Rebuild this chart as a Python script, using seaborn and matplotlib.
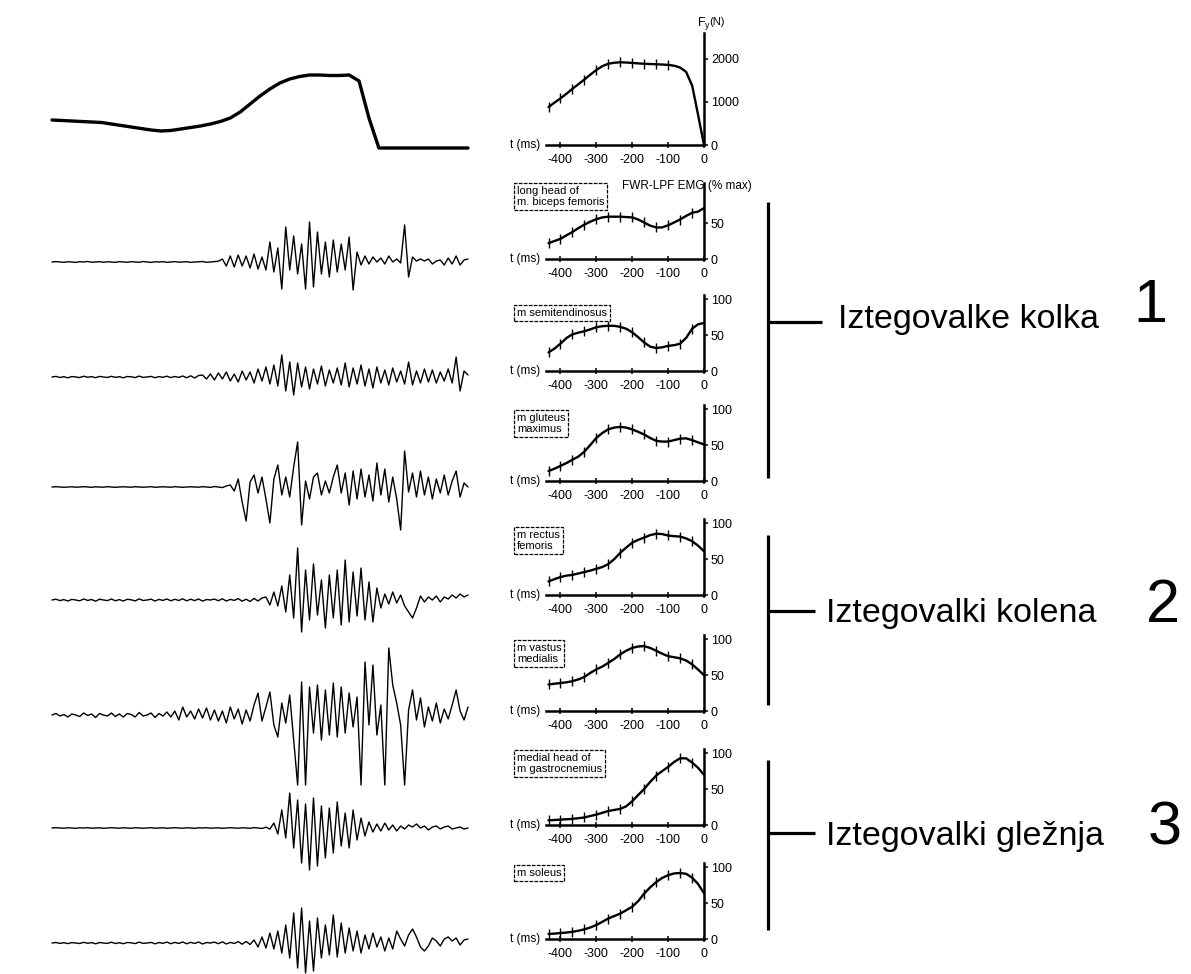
import numpy as np
import matplotlib
matplotlib.use("Agg")
import matplotlib.pyplot as plt
import seaborn as sns
from matplotlib import font_manager

sns.set_theme(style="white")
plt.rcParams['axes.unicode_minus'] = False
_names = {f.name for f in font_manager.fontManager.ttflist}
NARROW = 'Liberation Sans Narrow' in _names
FAM = ['Liberation Sans Narrow', 'Liberation Sans', 'DejaVu Sans'] if NARROW else ['Liberation Sans', 'DejaVu Sans']
plt.rcParams['font.family'] = ['Liberation Sans', 'DejaVu Sans']

# ---------------- data: filtered curves (right-hand small panels) ----------------
T_MS = [-433, -417, -400, -383, -367, -350, -333, -317, -300, -283, -267, -250, -233,
        -217, -200, -183, -167, -150, -133, -117, -100, -83, -67, -50, -33, -17, 0]

FORCE_N = [880, 980, 1080, 1190, 1300, 1410, 1520, 1630, 1740, 1830, 1885, 1910, 1920,
           1915, 1905, 1895, 1885, 1880, 1875, 1868, 1860, 1840, 1800, 1700, 1380, 720, 0]
BICEPS = [22, 25, 28, 33, 37.5, 43, 48, 52, 55.5, 58, 59, 59, 59, 58.5, 58, 55, 51, 46.5,
          44, 44, 47, 51, 55, 60, 64.5, 66, 71]
SEMITEND = [26, 31, 38, 46, 51, 53.5, 55.5, 58, 61, 62.5, 63, 63, 61.5, 59, 54, 47, 40, 34,
            32, 33, 35, 36, 38, 46, 59, 65, 67]
GLUTEUS = [14, 17, 21, 25, 29.5, 34, 41, 50, 60, 67, 72, 74.5, 75.5, 74.5, 72, 68.5, 65, 60,
           56, 55, 55, 57, 59, 59.5, 57, 54, 51]
RECTUS = [19, 22, 25, 27, 28, 30, 32, 34, 36.5, 39, 43, 50, 59, 66, 73, 77, 80, 83.5, 85.5,
          85, 83, 82, 81.5, 79, 75, 69, 61]
VASTUS = [37, 38, 39, 40, 41.5, 44, 47.5, 53, 58, 62, 67, 72.5, 79, 84, 88, 90, 90.5, 88, 84,
          80, 76.5, 75, 73.5, 70.5, 65, 58, 50]
GASTROC = [6.5, 7, 7.5, 8, 8.5, 9.5, 10.5, 12.5, 14.5, 17, 19.5, 21, 22.5, 26, 33, 42, 50, 60,
           69, 75, 81, 88, 93, 93, 87, 80, 70]
SOLEUS = [7, 7.5, 8.3, 9, 10, 11.5, 13.5, 16, 19.5, 24, 28.5, 32, 35.5, 40, 45, 53, 63, 72,
          79.5, 85, 89, 91.5, 92, 91, 85.5, 77, 64]

MUSCLE_LABELS = ["long head of\nm. biceps femoris", "m semitendinosus", "m gluteus\nmaximus",
                 "m rectus\nfemoris", "m vastus\nmedialis", "medial head of\nm gastrocnemius",
                 "m soleus"]
X_TICKS = [-400, -300, -200, -100, 0]
X_TICK_LABELS = ["-400", "-300", "-200", "-100", "0"]

# ---------------- data: raw traces (left column) ----------------
RAW_FORCE = [28, 27.5, 27, 26.5, 26, 25.5, 24, 22.5, 21, 19.5, 18, 17, 17.5, 19, 20.5, 22, 24,
             26.5, 30, 36, 44, 52, 59, 65, 69, 71.5, 73, 73, 72.5, 72.5, 73, 67, 30, 0,
             0, 0, 0, 0, 0, 0, 0, 0, 0]
RAW_BICEPS = [0, 0.4, 0, -0.3, 0.2, 0, -0.4, 0.3, 0, 0.5, -0.2, 0, 0.3, -0.3, 0.2, 0, -0.4, 0.4,
              0, -0.2, 0.3, 0, -0.3, 0.5, 0, -0.4, 0.2, 0, 0.3, -0.3, 0, 0.4, -0.2, 0, 0.3, -0.4,
              0, 0.2, 0.5, -0.3, 0, 0.4, 0.8,
              3, -4, 6, -5, 7, -4, 6, -6, 8, -7, 5, -8, 20, -10, 14, -27, 35, -8, 26, -12, 18,
              -27, 40, -25, 30, -12, 20, -15, 22, -10, 18, -8, 25, -28, 10, -3, 6, -2, 5, 0, 4,
              -2, 6, 0, 3, -1, 37, -15, 5, 1, 3, 1, 3, -2, 1, 2, -3, 4, -2, 6, -3, 2, 3]
RAW_SEMITEND = [0, 0.6, -0.5, 0.3, -0.8, 0.5, 0, -0.6, 0.8, -0.3, 0.4, -0.7, 0.6, 0, -0.5, 0.7,
                -0.4, 0.3, -0.8, 0.5, 0.2, -0.6, 0.9, -0.4, 0, 0.6, -0.7, 0.4, -0.3, 0.8, -0.6,
                0.5, -0.4, 1.0, -0.8, 1.2, -1.0, 1.5,
                2, -2, 3, -3, 4, -2, 5, -4, 3, -5, 6, -3, 5, -6, 8, -4, 10, -7, 12, -9, 22, -14,
                15, -18, 14, -10, 10, -12, 8, -7, 11, -9, 7, -6, 9, -8, 14, -10, 9, -7, 12, -9,
                8, -11, 10, -6, 7, -8, 9, -5, 6, -7, 15, -8, 6, -6, 8, -5, 7, -6, 5, -4, 8, -6,
                20, -14, 6, 2]
RAW_GLUTEUS = [0, 0.3, 0, -0.3, 0, 0.2, -0.2, 0, 0.3, 0, -0.3, 0.2, 0, -0.2, 0.3, 0, -0.3, 0,
               0.2, 0, -0.2, 0.3, 0, -0.2, 0, 0.3, -0.3, 0, 0.2, 0, -0.2, 0.3, 0, -0.3, 0, 0.2,
               0, -0.2, 0.3, 0, -0.4, 0.5, 0, -0.6, 1.0,
               2, -4, 8, -15, -34, 5, 12, -6, 10, -12, -36, 8, 22, -8, 10, -10, 20, 45, -38, 6,
               -12, 10, 14, -8, 6, -6, 10, 22, -6, 14, -18, 16, -12, 18, -10, 12, -14, 24, -8,
               18, -15, 10, -12, -43, 36, -5, 14, -10, 16, -8, 10, -12, 8, -6, 12, -8, 6, 16,
               -10, 4, 0]
RAW_RECTUS = [0, 0.8, -0.6, 0.4, -1.0, 0.6, 0, -0.8, 1.0, -0.4, 0.5, -1.2, 0.8, 0, -0.6, 1.0,
              -0.8, 0.4, -1.0, 0.7, 0.2, -0.9, 1.1, -0.5, 0, 0.8, -1.0, 0.6, -0.4, 1.0, -0.8,
              0.7, -0.5, 1.2, -0.9, 0.8, -0.6, 1.0, -1.1, 0.5, 0, 0.9, -0.7, 1.2, -1.0, 0.6,
              -0.4, 1.4, -1.2, 0.8, -1.5, 1.6, -1.0, 2.0,
              3, -5, 8, -6, 14, -12, 25, -18, 52, -32, 30, -20, 36, -15, 20, -28, 25, -18, 30,
              -25, 40, -22, 28, -16, 32, -20, 18, -22, 12, -8, 6, -4, 8, -3, 5, -6, -12, -18,
              -8, 4, -2, 3, 0, 4, -2, 3, 1, 5, 2, 6, 3, 5]
RAW_VASTUS = [0, 1.5, -1.0, 0.5, -2.0, 1.0, 0, -1.5, 2.0, -0.5, 1.0, -2.5, 1.5, 0, -1.0, 2.0,
              -1.5, 1.0, -2.0, 1.5, 0.5, -2.0, 2.5, -1.0, 0, 2.0, -2.5, 1.5, -1.0, 3.0, -2.0, 4.0,
              -5, 8, -2, 4, -4, 6, -3, 7, -5, 5, -6, 4, -8, 8, -4, 6, -9, 5, -6, 10, 22, -6, 8,
              23, -10, -22, 12, -8, 20, -25, -70, 33, -70, 28, -18, 30, -25, 25, -20, 32, -22,
              28, -18, 22, -12, 18, -70, 53, -10, 50, -20, 10, -70, 67, 30, 12, -10, -70, 5,
              25, -5, 17, -12, 8, -6, 12, -8, 6, -4, 10, 25, 4, -5, 8]
RAW_GASTROC = [0, 0.3, 0, -0.2, 0.2, 0, -0.3, 0.2, 0, 0.3, -0.2, 0, 0.2, -0.3, 0, 0.3, 0, -0.2,
               0.2, 0, -0.3, 0.3, 0, -0.2, 0, 0.3, -0.2, 0, 0.2, -0.3, 0, 0.3, 0, -0.2, 0.2, 0,
               -0.3, 0.2, 0, 0.3, -0.2, 0, 0.2, -0.3, 0, 0.3, 0, -0.2, 0.2, 0, -0.3, 0.4, 0,
               -0.5, 0.8, -1.0,
               5, -6, 18, -10, 35, -20, 28, -35, 24, -42, 30, -38, 22, -30, 20, -25, 26, -18,
               15, -20, 18, -12, 10, -8, 6, -4, 4, -3, 5, -2, 3, -3, 2, -1, 3, 1, 4, 0, 2, -2,
               1, 2, -1, 1, 2, -1, 0, 1, -1, 0]
RAW_SOLEUS = [0, 0.5, -0.4, 0.3, -0.6, 0.4, 0, -0.5, 0.7, -0.3, 0.4, -0.8, 0.5, 0, -0.4, 0.8,
              -0.5, 0.3, -0.7, 0.5, 0.2, -0.6, 0.9, -0.4, 0, 0.6, -0.8, 0.5, -0.3, 0.9, -0.7,
              0.6, -0.4, 1.0, -0.8, 0.7, -0.5, 1.0, -1.0, 0.5, 0, 0.9, -0.7, 1.2, -1.0, 0.6,
              -0.5, 1.4, -1.2, 1.5, -1.5,
              3, -4, 6, -5, 10, -6, 12, -10, 18, -15, 30, -25, 35, -30, 22, -28, 25, -15, 18,
              -12, 28, -14, 20, -10, 15, -8, 12, -10, 8, -6, 10, -4, 6, -8, 5, -6, 12, 4, -3,
              8, 14, 6, -4, -8, -3, 5, 2, -3, 4, 6, 2, 5, -2, 3, 4]

GROUP_LABELS = ["Iztegovalke kolka", "Iztegovalki kolena", "Iztegovalki gležnja"]
GROUP_NUMBERS = ["1", "2", "3"]

# ---------------- layout (pixels) ----------------
W, H = 1191, 974
fig = plt.figure(figsize=(W / 100, H / 100), dpi=100)
fig.patch.set_facecolor("white")


def px_axes(x0, y0, x1, y1):
    return fig.add_axes([x0 / W, 1 - y1 / H, (x1 - x0) / W, (y1 - y0) / H])


PANEL_X0, PANEL_X1 = 546, 704
ZERO_Y = [145, 259, 371, 481, 595, 711, 825, 939]
BOX_TOP = [183, 305, 410, 527, 640, 750, 865]
TXT = dict(color="black")

series = [FORCE_N, BICEPS, SEMITEND, GLUTEUS, RECTUS, VASTUS, GASTROC, SOLEUS]
for k, vals in enumerate(series):
    zero = ZERO_Y[k]
    if k == 0:
        top_val, height = 2600, 112
    else:
        top_val, height = 106, 76
    ax = px_axes(PANEL_X0, zero - height, PANEL_X1, zero)
    ax.patch.set_visible(False)
    mk = slice(0, 21, 2) if k == 0 else slice(0, 25, 2)
    sns.lineplot(x=T_MS, y=vals, ax=ax, color="black", lw=1.7, marker="|",
                 markersize=7, markeredgewidth=1.0, markeredgecolor="black",
                 markerfacecolor="black", markevery=mk)
    ax.set_xlim(-440, 0)
    ax.set_ylim(0, top_val)
    for s in ["left", "top"]:
        ax.spines[s].set_visible(False)
    for s in ["right", "bottom"]:
        ax.spines[s].set_linewidth(1.8)
        ax.spines[s].set_color("black")
    ax.yaxis.tick_right()
    ax.set_xticks(X_TICKS)
    ax.set_xticklabels(X_TICK_LABELS)
    if k == 0:
        ax.set_yticks([0, 1000, 2000])
        ax.set_yticklabels(["0", "1000", "2000"])
    elif k == 1:
        ax.set_yticks([0, 50])
        ax.set_yticklabels(["0", "50"])
    else:
        ax.set_yticks([0, 50, 100])
        ax.set_yticklabels(["0", "50", "100"])
    ax.tick_params(axis="x", direction="inout", length=5, width=1.1, labelsize=9, pad=4,
                   colors="black", bottom=True)
    ax.tick_params(axis="y", direction="out", length=3, width=1.1, labelsize=9, pad=2,
                   colors="black", right=True, left=False)
    ax.set_xlabel("")
    ax.set_ylabel("")
    ax.grid(False)
    ax.text(-0.035, 0, "t (ms)", transform=ax.transAxes, ha="right", va="center",
            fontsize=8.5, **TXT)
    if k >= 1:
        fig.text(517 / W, 1 - (BOX_TOP[k - 1] + 3) / H, MUSCLE_LABELS[k - 1], ha="left",
                 va="top", fontsize=8, linespacing=1.1, family=FAM,
                 bbox=dict(boxstyle="square,pad=0.25", fc="white", ec="black", lw=0.9,
                           ls=(0, (3, 1))), **TXT)

fig.text(697 / W, 1 - 24 / H, r"F$_\mathregular{y}$", ha="left", va="center", fontsize=9, **TXT)
fig.text(709 / W, 1 - 22 / H, "(N)", ha="left", va="center", fontsize=8, **TXT)
fig.text(622 / W, 1 - 186 / H, "FWR-LPF EMG (% max)", ha="left", va="center", fontsize=8.5,
         family=FAM, **TXT)

# ---------------- raw traces (left column) ----------------
RAW_BASE = [148, 262, 377, 487, 600, 715, 828, 943]
raws = [RAW_FORCE, RAW_BICEPS, RAW_SEMITEND, RAW_GLUTEUS, RAW_RECTUS, RAW_VASTUS,
        RAW_GASTROC, RAW_SOLEUS]
for k, vals in enumerate(raws):
    base = RAW_BASE[k]
    ax = px_axes(50, base - 90, 470, base + 90)
    ax.patch.set_visible(False)
    xs = np.linspace(50, 470, len(vals))
    sns.lineplot(x=xs, y=vals, ax=ax, color="black", lw=2.4 if k == 0 else 1.0)
    ax.set_xlim(48, 472)
    ax.set_ylim(-90, 90)
    ax.set_axis_off()

# ---------------- brackets and group labels ----------------
ov = fig.add_axes([0, 0, 1, 1])
ov.set_xlim(0, W)
ov.set_ylim(H, 0)
ov.set_axis_off()
ov.patch.set_visible(False)
BR_X = 768
BR_SPANS = [(202, 478), (535, 705), (760, 930)]
BR_MID = [322, 611, 833]
BR_END = [822, 815, 815]
TXT_X = [838, 826, 826]
TXT_BASE = [328, 622, 845]
NUM_X = [1150, 1163, 1165]
NUM_Y = [307, 607, 829]
label_size = 29.5 if NARROW else 24.5
for g in range(3):
    y0, y1 = BR_SPANS[g]
    ov.plot([BR_X, BR_X], [y0, y1], color="black", lw=2.3, solid_capstyle="butt")
    ov.plot([BR_X, BR_END[g]], [BR_MID[g], BR_MID[g]], color="black", lw=2.3,
            solid_capstyle="butt")
    ov.text(TXT_X[g], TXT_BASE[g], GROUP_LABELS[g], ha="left", va="baseline",
            fontsize=label_size, family=FAM, **TXT)
    ov.text(NUM_X[g], NUM_Y[g], GROUP_NUMBERS[g], ha="center", va="center",
            fontsize=44, family=FAM, **TXT)

fig.savefig("out.png", dpi=100, facecolor="white")
